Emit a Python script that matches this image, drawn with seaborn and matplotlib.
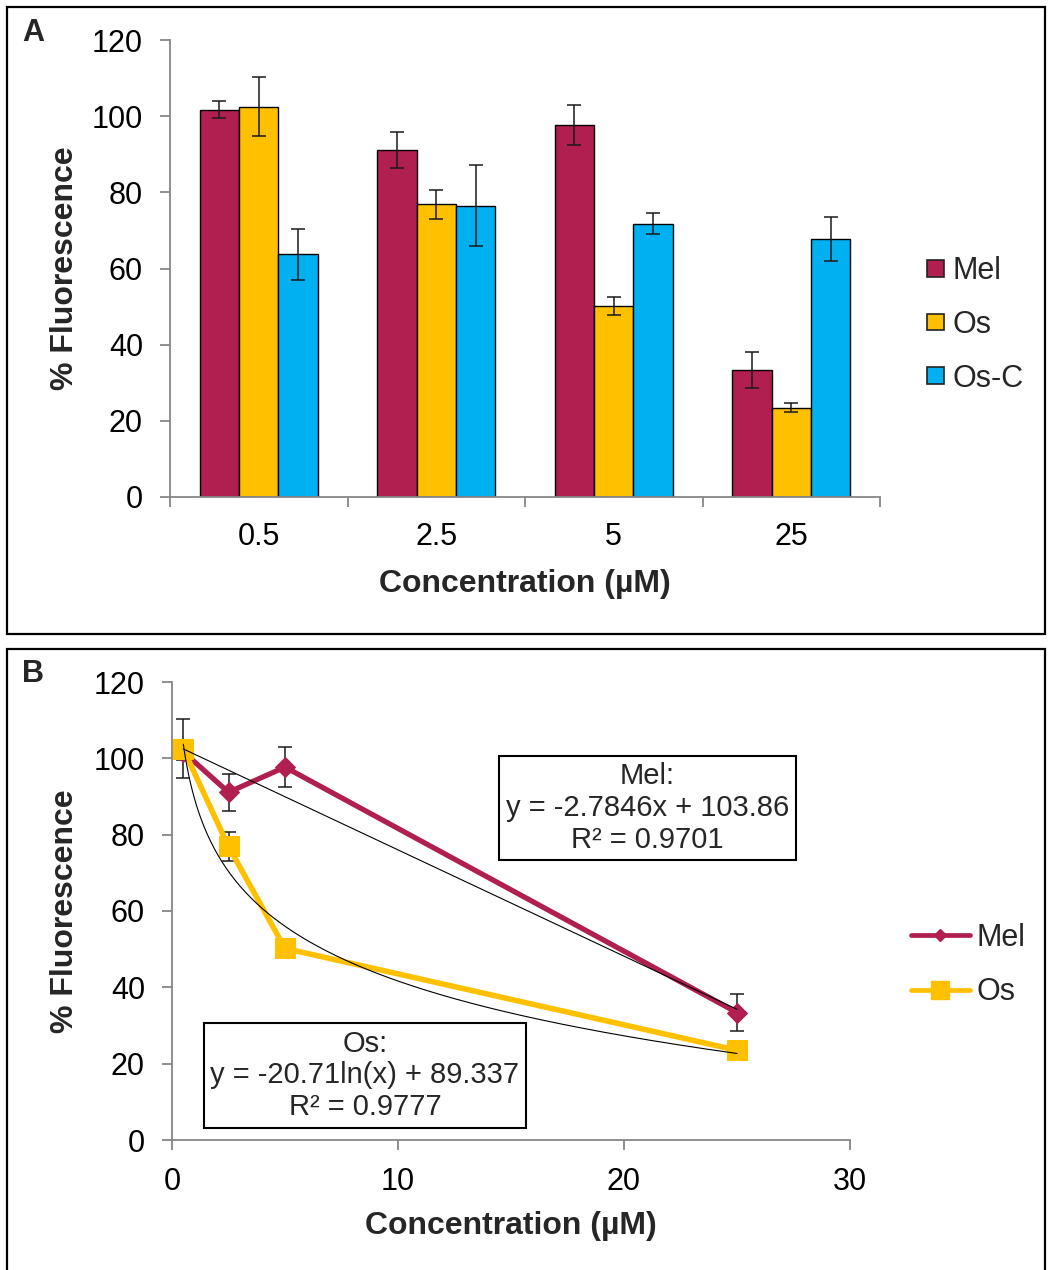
import numpy as np
import pandas as pd
import matplotlib.pyplot as plt
import seaborn as sns
from matplotlib.lines import Line2D
from matplotlib.patches import Rectangle

# ========= DATA =========
conc_labels = ["0.5", "2.5", "5", "25"]
conc_values = [0.5, 2.5, 5, 25]
series_names = ["Mel", "Os", "Os-C"]

mel_mean = [101.7, 91.1, 97.7, 33.4]
mel_err = [2.2, 4.8, 5.2, 4.8]
os_mean = [102.5, 76.9, 50.2, 23.5]
os_err = [7.7, 3.8, 2.4, 1.2]
osc_mean = [63.7, 76.5, 71.8, 67.8]
osc_err = [6.8, 10.7, 2.7, 5.7]

# trendline coefficients as printed in the chart
mel_fit = (-2.7846, 103.86)   # y = a*x + b
os_fit = (-20.71, 89.337)     # y = a*ln(x) + b

mel_text = "Mel:\ny = -2.7846x + 103.86\nR² = 0.9701"
os_text = "Os:\ny = -20.71ln(x) + 89.337\nR² = 0.9777"

colors = {"Mel": "#B01F50", "Os": "#FFC000", "Os-C": "#00B0F0"}
AXIS_GREY = "#868686"

# ========= STYLE =========
sns.set_style("white")
plt.rcParams["font.family"] = ["Liberation Sans", "DejaVu Sans"]

W, H = 1048, 1270
fig = plt.figure(figsize=(W / 100, H / 100), dpi=100)


def fx(px):
    return px / W


def fy(px):
    return 1 - px / H


def style_axes(ax):
    sns.despine(ax=ax)
    for s in ("left", "bottom"):
        ax.spines[s].set_color(AXIS_GREY)
        ax.spines[s].set_linewidth(1.3)
    ax.tick_params(axis="both", which="both", direction="out", color=AXIS_GREY,
                   width=1.3, labelsize=22, labelcolor="black",
                   left=True, bottom=True)
    ax.tick_params(axis="y", length=7.5, pad=12)
    ax.set_ylim(0, 120)
    ax.set_yticks(range(0, 121, 20))


# ========= PANEL A: bars =========
axA = fig.add_axes([fx(170), fy(497), fx(880) - fx(170), fy(40) - fy(497)])

bar_df = pd.DataFrame({
    "conc": conc_labels * 3,
    "value": mel_mean + os_mean + osc_mean,
    "series": [s for s in series_names for _ in conc_labels],
})
errs = {"Mel": mel_err, "Os": os_err, "Os-C": osc_err}

sns.barplot(data=bar_df, x="conc", y="value", hue="series", hue_order=series_names,
            order=conc_labels, palette=colors, width=0.665, errorbar=None,
            edgecolor="black", linewidth=1, saturation=1, ax=axA)

for name, cont in zip(series_names, axA.containers):
    xs = [p.get_x() + p.get_width() / 2 for p in cont]
    ys = [p.get_height() for p in cont]
    axA.errorbar(xs, ys, yerr=errs[name], fmt="none", ecolor="#1a1a1a",
                 elinewidth=1.1, capsize=4.7, capthick=1.1, zorder=4)

style_axes(axA)
axA.set_xlim(-0.5, 3.5)
axA.set_xticks(range(4), conc_labels)
axA.set_xticks(np.arange(-0.5, 4, 1), minor=True)
axA.tick_params(axis="x", which="major", length=0, pad=18)
axA.tick_params(axis="x", which="minor", length=7.5)
axA.set_xlabel("Concentration (µM)", fontsize=23, fontweight="bold", labelpad=12)
axA.set_ylabel("% Fluorescence", fontsize=23, fontweight="bold", va="center")
axA.yaxis.set_label_coords((65 - 170) / 710, 0.5)

legA = axA.legend(loc="center left", bbox_to_anchor=(fx(927), fy(325)),
                  bbox_transform=fig.transFigure, frameon=False, fontsize=22,
                  handlelength=0.55, handleheight=0.46, handletextpad=0.3,
                  labelspacing=0.77, borderpad=0, borderaxespad=0)
for h in legA.legend_handles:
    h.set_edgecolor("#222222")
    h.set_linewidth(1.2)

# ========= PANEL B: lines =========
axB = fig.add_axes([fx(172), fy(1140), fx(850) - fx(172), fy(682) - fy(1140)])

line_df = pd.DataFrame({"conc": conc_values, "Mel": mel_mean, "Os": os_mean})

axB.errorbar(conc_values, mel_mean, yerr=mel_err, fmt="none", ecolor="#1a1a1a",
             elinewidth=1.1, capsize=4.7, capthick=1.1, zorder=1)
axB.errorbar(conc_values, os_mean, yerr=os_err, fmt="none", ecolor="#1a1a1a",
             elinewidth=1.1, capsize=4.7, capthick=1.1, zorder=1)

sns.lineplot(data=line_df, x="conc", y="Mel", color=colors["Mel"], marker="D",
             markersize=10.5, markeredgecolor=colors["Mel"], linewidth=3.8,
             sort=False, ax=axB, zorder=2)
sns.lineplot(data=line_df, x="conc", y="Os", color=colors["Os"], marker="s",
             markersize=15, markeredgecolor=colors["Os"], linewidth=4.0,
             sort=False, ax=axB, zorder=3)

x_fit = np.linspace(min(conc_values), max(conc_values), 300)
axB.plot(x_fit, mel_fit[0] * x_fit + mel_fit[1], color="black", lw=0.8, zorder=5)
axB.plot(x_fit, os_fit[0] * np.log(x_fit) + os_fit[1], color="black", lw=0.8, zorder=5)

style_axes(axB)
axB.set_xlim(0, 30)
axB.set_xticks(range(0, 31, 10))
axB.tick_params(axis="x", length=7.5, pad=12)
axB.set_xlabel("Concentration (µM)", fontsize=23, fontweight="bold", labelpad=10)
axB.set_ylabel("% Fluorescence", fontsize=23, fontweight="bold", va="center")
axB.yaxis.set_label_coords((65 - 172) / 678, 0.5)

box = dict(boxstyle="square,pad=0.22", fc="white", ec="black", lw=1.5)
axB.text(21.04, 87.0, mel_text, ha="center", va="center", fontsize=21,
         linespacing=1.17, bbox=box, zorder=6)
axB.text(8.54, 16.9, os_text, ha="center", va="center", fontsize=21,
         linespacing=1.17, bbox=box, zorder=6)

handlesB = [
    Line2D([0], [0], color=colors["Mel"], lw=3.4, marker="D", markersize=6.5,
           markeredgecolor=colors["Mel"]),
    Line2D([0], [0], color=colors["Os"], lw=3.4, marker="s", markersize=12.5,
           markeredgecolor=colors["Os"]),
]
axB.legend(handlesB, ["Mel", "Os"], loc="center left",
           bbox_to_anchor=(fx(911), fy(965)), bbox_transform=fig.transFigure,
           frameon=False, fontsize=22, handlelength=1.93, handletextpad=0.2,
           labelspacing=0.8, borderpad=0, borderaxespad=0, numpoints=1)

# ========= PANEL FRAMES & LETTERS =========
fig.add_artist(Rectangle((fx(7), fy(634)), fx(1045) - fx(7), fy(7) - fy(634),
                         transform=fig.transFigure, fill=False, ec="black", lw=1.6))
fig.add_artist(Rectangle((fx(7), fy(1275)), fx(1045) - fx(7), fy(649) - fy(1275),
                         transform=fig.transFigure, fill=False, ec="black", lw=1.6))
fig.text(fx(22), fy(33), "A", fontsize=22, fontweight="bold", va="center", ha="left")
fig.text(fx(22), fy(674), "B", fontsize=22, fontweight="bold", va="center", ha="left")

fig.savefig("out.png", dpi=100)
